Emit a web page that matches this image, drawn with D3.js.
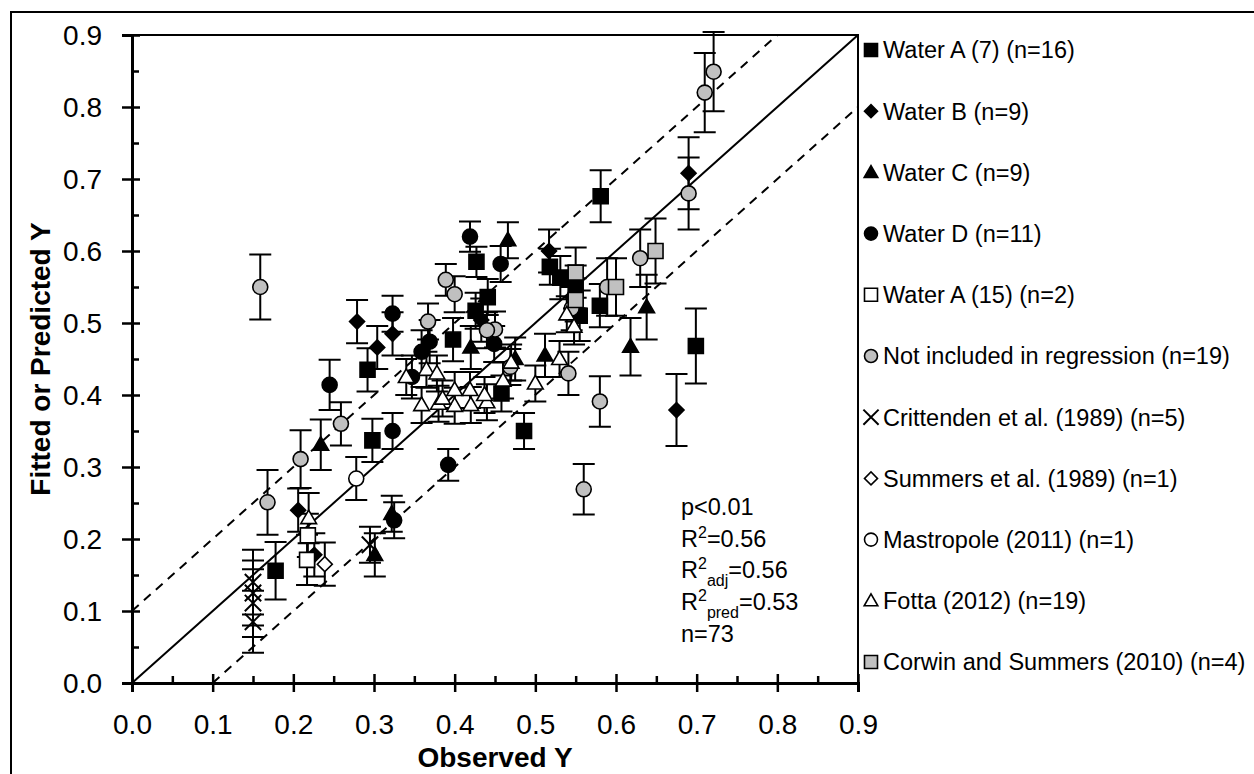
<!DOCTYPE html>
<html>
<head>
<meta charset="utf-8">
<script src="https://cdn.jsdelivr.net/npm/d3@7"></script>
<style>
  body { margin: 0; background: #fff; }
  svg text { font-family: Arial, "Liberation Sans", sans-serif; fill: #000; }
</style>
</head>
<body>
<div id="chart"></div>
<script>
// each point: observed x, fitted/predicted y, half length of error bar
var waterA7 = [
    {x: 0.178, y: 0.156, e: 0.040}, {x: 0.292, y: 0.435, e: 0.030}, {x: 0.298, y: 0.337, e: 0.030},
    {x: 0.398, y: 0.477, e: 0.030}, {x: 0.427, y: 0.585, e: 0.021}, {x: 0.441, y: 0.536, e: 0.025},
    {x: 0.426, y: 0.517, e: 0.025}, {x: 0.458, y: 0.402, e: 0.025}, {x: 0.486, y: 0.350, e: 0.025},
    {x: 0.518, y: 0.578, e: 0.025}, {x: 0.531, y: 0.563, e: 0.030}, {x: 0.550, y: 0.550, e: 0.030},
    {x: 0.555, y: 0.510, e: 0.035}, {x: 0.581, y: 0.676, e: 0.036}, {x: 0.580, y: 0.524, e: 0.030},
    {x: 0.699, y: 0.468, e: 0.052}
];
var waterB = [
    {x: 0.206, y: 0.240, e: 0.030}, {x: 0.226, y: 0.178, e: 0.030}, {x: 0.279, y: 0.502, e: 0.030},
    {x: 0.304, y: 0.466, e: 0.030}, {x: 0.323, y: 0.485, e: 0.030}, {x: 0.433, y: 0.504, e: 0.030},
    {x: 0.517, y: 0.600, e: 0.030}, {x: 0.690, y: 0.708, e: 0.050}, {x: 0.675, y: 0.379, e: 0.050}
];
var waterC = [
    {x: 0.234, y: 0.331, e: 0.035}, {x: 0.301, y: 0.178, e: 0.030}, {x: 0.322, y: 0.235, e: 0.025},
    {x: 0.420, y: 0.466, e: 0.030}, {x: 0.466, y: 0.615, e: 0.025}, {x: 0.475, y: 0.450, e: 0.030},
    {x: 0.512, y: 0.455, e: 0.030}, {x: 0.618, y: 0.467, e: 0.040}, {x: 0.638, y: 0.522, e: 0.045}
];
var waterD = [
    {x: 0.245, y: 0.414, e: 0.035}, {x: 0.323, y: 0.513, e: 0.025}, {x: 0.323, y: 0.350, e: 0.025},
    {x: 0.325, y: 0.226, e: 0.025}, {x: 0.347, y: 0.425, e: 0.030}, {x: 0.359, y: 0.460, e: 0.030},
    {x: 0.369, y: 0.474, e: 0.030}, {x: 0.392, y: 0.303, e: 0.022}, {x: 0.419, y: 0.620, e: 0.021},
    {x: 0.457, y: 0.582, e: 0.025}, {x: 0.449, y: 0.471, e: 0.025}
];
var waterA15 = [
    {x: 0.217, y: 0.171, e: 0.035}, {x: 0.218, y: 0.205, e: 0.030}
];
var notIncluded = [
    {x: 0.159, y: 0.550, e: 0.045}, {x: 0.168, y: 0.251, e: 0.045}, {x: 0.209, y: 0.311, e: 0.040},
    {x: 0.259, y: 0.360, e: 0.030}, {x: 0.367, y: 0.502, e: 0.025}, {x: 0.389, y: 0.560, e: 0.022},
    {x: 0.400, y: 0.540, e: 0.025}, {x: 0.450, y: 0.491, e: 0.025}, {x: 0.469, y: 0.439, e: 0.025},
    {x: 0.541, y: 0.430, e: 0.030}, {x: 0.580, y: 0.391, e: 0.035}, {x: 0.560, y: 0.269, e: 0.035},
    {x: 0.589, y: 0.550, e: 0.040}, {x: 0.630, y: 0.590, e: 0.040}, {x: 0.690, y: 0.680, e: 0.050},
    {x: 0.710, y: 0.820, e: 0.055}, {x: 0.721, y: 0.849, e: 0.055}, {x: 0.545, y: 0.520, e: 0.030},
    {x: 0.440, y: 0.490, e: 0.025}
];
var crittenden = [
    {x: 0.150, y: 0.140, e: 0.045}, {x: 0.150, y: 0.125, e: 0.045}, {x: 0.150, y: 0.111, e: 0.047},
    {x: 0.150, y: 0.085, e: 0.043}, {x: 0.295, y: 0.192, e: 0.025}
];
var summers = [{x: 0.239, y: 0.165, e: 0.030}];
var mastropole = [{x: 0.278, y: 0.284, e: 0.030}];
var fotta = [
    {x: 0.219, y: 0.229, e: 0.035}, {x: 0.340, y: 0.425, e: 0.025}, {x: 0.365, y: 0.435, e: 0.025},
    {x: 0.378, y: 0.430, e: 0.025}, {x: 0.359, y: 0.386, e: 0.025}, {x: 0.380, y: 0.388, e: 0.025},
    {x: 0.400, y: 0.385, e: 0.025}, {x: 0.420, y: 0.386, e: 0.025}, {x: 0.440, y: 0.390, e: 0.025},
    {x: 0.400, y: 0.407, e: 0.025}, {x: 0.419, y: 0.407, e: 0.025}, {x: 0.437, y: 0.400, e: 0.025},
    {x: 0.460, y: 0.420, e: 0.025}, {x: 0.470, y: 0.445, e: 0.025}, {x: 0.500, y: 0.416, e: 0.025},
    {x: 0.530, y: 0.450, e: 0.025}, {x: 0.539, y: 0.512, e: 0.025}, {x: 0.548, y: 0.495, e: 0.025},
    {x: 0.385, y: 0.395, e: 0.025}
];
var corwin = [
    {x: 0.550, y: 0.570, e: 0.035}, {x: 0.550, y: 0.532, e: 0.030}, {x: 0.600, y: 0.550, e: 0.040},
    {x: 0.649, y: 0.600, e: 0.045}
];

var seriesNames = ['Water A (7) (n=16)', 'Water B (n=9)', 'Water C (n=9)', 'Water D (n=11)',
    'Water A (15) (n=2)', 'Not included in regression (n=19)', 'Crittenden et al. (1989) (n=5)',
    'Summers et al. (1989) (n=1)', 'Mastropole (2011) (n=1)', 'Fotta (2012) (n=19)',
    'Corwin and Summers (2010) (n=4)'];
var tickValues = [0, 0.1, 0.2, 0.3, 0.4, 0.5, 0.6, 0.7, 0.8, 0.9];
var minorTicks = [0.05, 0.15, 0.25, 0.35, 0.45, 0.55, 0.65, 0.75, 0.85];
var statLines = ['p<0.01', 'R2=0.56', 'R2adj=0.56', 'R2pred=0.53', 'n=73'];

var width = 1254, height = 774;

// marker shape / fill for each series (same order as seriesNames)
var series = [
    {data: waterA7, shape: 'square', fill: '#000'},
    {data: waterB, shape: 'diamond', fill: '#000'},
    {data: waterC, shape: 'triangle', fill: '#000'},
    {data: waterD, shape: 'circle', fill: '#000'},
    {data: waterA15, shape: 'square', fill: '#fff'},
    {data: notIncluded, shape: 'circle', fill: '#c0c0c0'},
    {data: crittenden, shape: 'x', fill: 'none'},
    {data: summers, shape: 'diamond', fill: '#fff'},
    {data: mastropole, shape: 'circle', fill: '#fff'},
    {data: fotta, shape: 'triangle', fill: '#fff'},
    {data: corwin, shape: 'square', fill: '#c0c0c0'}
];
series.forEach(function(s, i) { s.name = seriesNames[i]; });

var svg = d3.select('#chart').append('svg')
    .attr('width', width)
    .attr('height', height);

// outer frame of the figure (right and bottom run off the picture)
svg.append('rect')
    .attr('x', 11).attr('y', 12)
    .attr('width', width).attr('height', height)
    .attr('fill', 'none').attr('stroke', '#000').attr('stroke-width', 2);

var x = d3.scaleLinear().domain([0, 0.9]).range([132, 858]);
var y = d3.scaleLinear().domain([0, 0.9]).range([683, 35]);

// plot frame: top and right
svg.append('path')
    .attr('d', 'M' + x(0) + ',' + y(0.9) + 'H' + x(0.9) + 'V' + y(0))
    .attr('fill', 'none').attr('stroke', '#000').attr('stroke-width', 2);

// 1:1 line and +/-0.1 lines
var line = d3.line().x(function(d) { return x(d[0]); }).y(function(d) { return y(d[1]); });
svg.append('path').datum([[0, 0], [0.9, 0.9]])
    .attr('d', line).attr('stroke', '#000').attr('stroke-width', 2).attr('fill', 'none');
svg.append('path').datum([[0, 0.1], [0.8, 0.9]])
    .attr('d', line).attr('stroke', '#000').attr('stroke-width', 2)
    .attr('stroke-dasharray', '9,7').attr('fill', 'none');
svg.append('path').datum([[0.1, 0], [0.9, 0.8]])
    .attr('d', line).attr('stroke', '#000').attr('stroke-width', 2)
    .attr('stroke-dasharray', '9,7').attr('fill', 'none');

// axes
var xAxis = d3.axisBottom(x).tickValues(tickValues).tickFormat(d3.format('.1f')).tickSize(9).tickPadding(22);
var yAxis = d3.axisLeft(y).tickValues(tickValues).tickFormat(d3.format('.1f')).tickSize(10).tickPadding(20);

var gx = svg.append('g').attr('transform', 'translate(0,' + y(0) + ')').call(xAxis);
var gy = svg.append('g').attr('transform', 'translate(' + x(0) + ',0)').call(yAxis);
gx.selectAll('.tick line').attr('y1', -9).attr('y2', 9);
gy.selectAll('.tick line').attr('x1', 8).attr('x2', -10);
[gx, gy].forEach(function(g) {
    g.select('.domain').attr('stroke-width', 3);
    g.selectAll('.tick line').attr('stroke-width', 2.5);
    g.selectAll('text').style('font-size', '28px').attr('font-family', 'Arial, "Liberation Sans", sans-serif');
});
gy.selectAll('text').attr('dy', '0.35em');

svg.append('g').attr('transform', 'translate(0,' + y(0) + ')')
    .call(d3.axisTop(x).tickValues(minorTicks).tickSize(7).tickFormat(''))
    .call(function(g) { g.select('.domain').remove(); g.selectAll('line').attr('stroke-width', 2.5); });
svg.append('g').attr('transform', 'translate(' + x(0) + ',0)')
    .call(d3.axisRight(y).tickValues(minorTicks).tickSize(7).tickFormat(''))
    .call(function(g) { g.select('.domain').remove(); g.selectAll('line').attr('stroke-width', 2.5); });

// axis titles
svg.append('text')
    .attr('x', (x(0) + x(0.9)) / 2).attr('y', 767)
    .attr('text-anchor', 'middle')
    .style('font-size', '28px').style('font-weight', 'bold')
    .text('Observed Y');
svg.append('text')
    .attr('transform', 'translate(50,' + (y(0) + y(0.9)) / 2 + ') rotate(-90)')
    .attr('text-anchor', 'middle')
    .style('font-size', '28px').style('font-weight', 'bold')
    .text('Fitted or Predicted Y');

function markerPath(shape, s) {
    if (shape === 'square') return d3.symbol(d3.symbolSquare, s * s)();
    if (shape === 'circle') return d3.symbol(d3.symbolCircle, Math.PI * s * s / 4)();
    if (shape === 'triangle') return d3.symbol(d3.symbolTriangle, Math.sqrt(3) / 4 * s * s * 1.1)();
    if (shape === 'diamond') return d3.symbol(d3.symbolSquare, s * s * 0.5)();
    if (shape === 'x') return d3.symbol(d3.symbolX, s * s * 0.9)();
}

function drawMarker(g, shape, fill, s) {
    g.append('path')
        .attr('d', markerPath(shape, s))
        .attr('transform', shape === 'diamond' ? 'rotate(45)' : shape === 'triangle' ? 'translate(0,1)' : null)
        .attr('fill', fill)
        .attr('stroke', '#000')
        .attr('stroke-width', shape === 'x' ? 2 : 1.6);
}

// error bars first, markers on top
var cap = 11;
series.forEach(function(s) {
    var eb = svg.append('g').attr('class', 'errbars');
    s.data.forEach(function(d) {
        var cx = x(d.x);
        eb.append('path')
            .attr('d', 'M' + cx + ',' + y(d.y - d.e) + 'V' + y(d.y + d.e) +
                'M' + (cx - cap) + ',' + y(d.y + d.e) + 'H' + (cx + cap) +
                'M' + (cx - cap) + ',' + y(d.y - d.e) + 'H' + (cx + cap))
            .attr('stroke', '#000').attr('stroke-width', 2).attr('fill', 'none');
    });
});
series.forEach(function(s) {
    svg.append('g').selectAll('g')
        .data(s.data)
        .enter().append('g')
        .attr('transform', function(d) { return 'translate(' + x(d.x) + ',' + y(d.y) + ')'; })
        .each(function() { drawMarker(d3.select(this), s.shape, s.fill, s.shape === 'x' ? 14 : 15); });
});

// legend
var legend = svg.append('g').selectAll('g')
    .data(series)
    .enter().append('g')
    .attr('transform', function(d, i) { return 'translate(871,' + (50 + i * 61.2) + ')'; });
legend.each(function(d) { drawMarker(d3.select(this), d.shape, d.fill, 13); });
legend.append('text')
    .attr('x', 12).attr('dy', '0.36em')
    .style('font-size', '23.5px')
    .text(function(d) { return d.name; });

// statistics
var stats = svg.append('text').attr('x', 681).attr('y', 515).style('font-size', '23.5px');
statLines.forEach(function(t, i) {
    var row = stats.append('tspan').attr('x', 681).attr('y', 515 + i * 31.7);
    if (t.indexOf('R2') === 0) {
        var rest = t.slice(2), sub = '';
        if (rest.indexOf('adj') === 0) { sub = 'adj'; rest = rest.slice(3); }
        if (rest.indexOf('pred') === 0) { sub = 'pred'; rest = rest.slice(4); }
        row.text('R');
        stats.append('tspan').attr('dy', -9).style('font-size', '16px').text('2');
        if (sub) stats.append('tspan').attr('dy', 17).style('font-size', '16px').text(sub);
        stats.append('tspan').attr('dy', sub ? -8 : 9).text(rest);
    } else {
        row.text(t);
    }
});
</script>
</body>
</html>
